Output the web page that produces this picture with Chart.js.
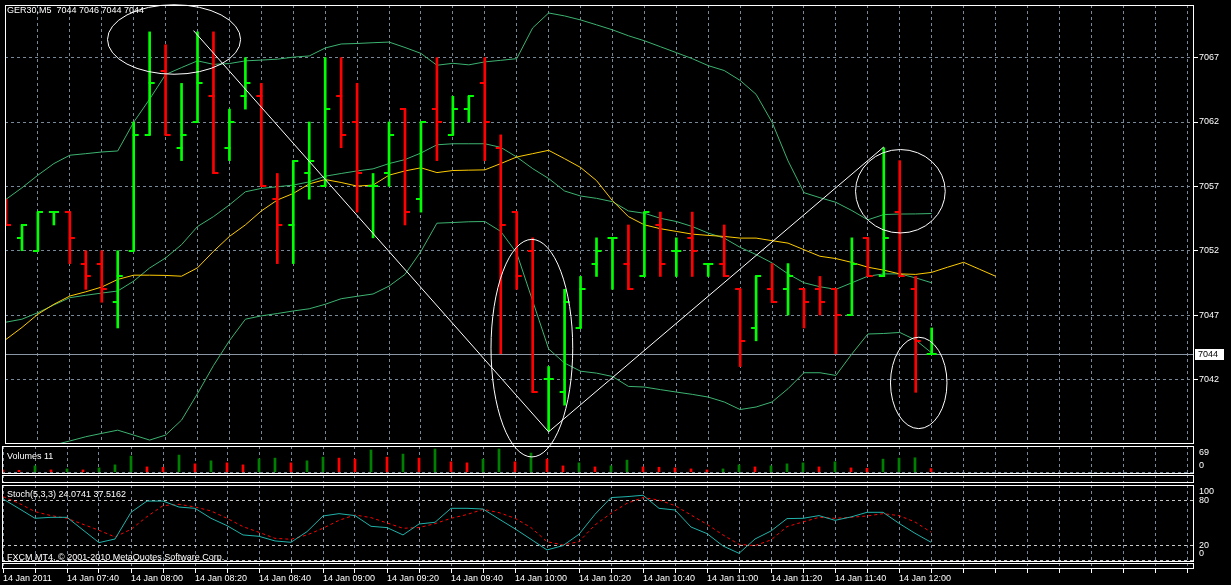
<!DOCTYPE html>
<html><head><meta charset="utf-8">
<script src="https://cdn.jsdelivr.net/npm/chart.js@4.4.1/dist/chart.umd.min.js"></script>
<style>
html,body{margin:0;padding:0;background:#000;overflow:hidden}
#wrap{position:relative;width:1231px;height:585px;background:#000}
canvas{position:absolute;left:0;top:0}
</style></head><body><div id="wrap">
<canvas id="cVol" width="1231" height="585"></canvas>
<canvas id="cEmpty" width="1231" height="585"></canvas>
<canvas id="cSto" width="1231" height="585"></canvas>
<canvas id="cAxis" width="1231" height="585"></canvas>
<canvas id="cMain" width="1231" height="585"></canvas>
</div>
<script>
// ---------------- DATA ----------------
const symbolName = 'GER30,M5';
const opens  = [7055,7053,7052,7055,7055,7051,7051,7048,7052,7061,7066,7060,7062,7064,7060,7064,7064,7056,7054,7058,7057,7064,7062,7057,7058,7063,7056,7063,7061,7063,7065,7060,7055,7052,7042,7041,7046,7051,7053,7051,7050,7054,7052,7053,7051,7051,7049,7046,7049,7049,7049,7049,7049,7047,7053,7050,7055,7049,7044];
const highs  = [7056,7054,7055,7055,7055,7052,7052,7052,7062,7069,7068,7065,7069,7069,7063,7067,7065,7058,7059,7062,7067,7067,7065,7058,7062,7063,7062,7067,7064,7064,7067,7061,7055,7053,7043,7049,7050,7053,7053,7054,7055,7055,7053,7055,7051,7054,7049,7050,7051,7051,7049,7050,7049,7053,7053,7060,7059,7050,7046];
const lows   = [7054,7052,7052,7054,7051,7049,7048,7046,7052,7061,7061,7059,7062,7058,7059,7063,7057,7051,7051,7056,7057,7060,7055,7053,7057,7054,7055,7059,7061,7062,7059,7044,7049,7041,7038,7040,7046,7050,7049,7049,7050,7050,7050,7050,7050,7050,7043,7045,7048,7047,7046,7047,7044,7047,7050,7050,7050,7041,7044];
const closes = [7054,7054,7055,7055,7053,7050,7049,7050,7061,7065,7061,7061,7065,7058,7062,7065,7057,7054,7059,7059,7063,7061,7058,7057,7061,7055,7062,7062,7063,7064,7062,7054,7050,7041,7042,7048,7049,7052,7053,7049,7055,7051,7052,7052,7051,7050,7045,7050,7048,7050,7048,7048,7047,7051,7050,7053,7050,7045,7044];
const volumes = [7,6,19,7,10,7,13,22,48,16,15,51,25,34,28,22,40,42,28,34,45,42,39,66,45,54,42,69,31,28,39,69,31,57,39,19,28,16,19,36,16,15,13,10,7,10,22,16,19,25,28,16,31,13,12,39,42,43,11];
const bbUpper = [7055.99,7056.89,7057.87,7058.77,7059.42,7059.54,7059.67,7059.75,7061.98,7063.78,7065.69,7066.23,7066.75,7066.48,7066.54,7066.75,7066.81,7066.88,7067.04,7067.13,7067.75,7068.06,7068.10,7068.16,7068.21,7067.79,7067.33,7066.41,7066.56,7066.44,7066.67,7066.79,7066.92,7069.31,7070.47,7070.24,7069.93,7069.55,7069.16,7068.70,7068.31,7067.85,7067.39,7066.92,7066.38,7066.00,7065.23,7064.15,7061.98,7058.98,7056.51,7056.12,7055.76,7055.12,7054.40,7054.81,7054.85,7054.86,7054.89];
const bbMiddle = [7046.45,7046.68,7047.19,7047.79,7048.35,7048.54,7048.71,7048.87,7049.64,7050.66,7051.44,7052.47,7053.88,7054.65,7055.56,7056.58,7056.84,7056.97,7057.10,7057.35,7057.79,7058.00,7058.20,7058.36,7058.77,7059.08,7059.59,7060.23,7060.31,7060.31,7060.31,7060.03,7059.28,7058.38,7057.61,7056.64,7056.25,7056.07,7055.81,7055.09,7054.91,7054.52,7054.27,7053.88,7053.37,7052.98,7052.26,7051.70,7051.05,7050.20,7049.51,7049.20,7049.00,7049.51,7050.02,7050.20,7050.20,7049.89,7049.51];
const bbLower = [7035.98,7036.29,7036.60,7036.91,7037.22,7037.55,7037.81,7038.06,7037.68,7037.29,7037.68,7038.84,7040.90,7043.08,7045.01,7046.68,7046.94,7047.12,7047.32,7047.49,7047.84,7048.27,7048.46,7048.64,7049.25,7050.16,7051.95,7054.14,7054.19,7054.25,7054.27,7053.50,7051.82,7048.10,7044.37,7043.27,7042.64,7042.49,7042.23,7041.46,7041.41,7041.21,7041.02,7040.84,7040.63,7040.25,7039.66,7039.86,7040.25,7041.28,7042.52,7042.52,7042.31,7043.98,7045.53,7045.57,7045.65,7045.06,7044.06];
const maShifted = [7045.11,7046.04,7047.07,7047.84,7048.48,7048.81,7049.18,7049.77,7050.10,7050.10,7050.08,7050.02,7050.67,7051.95,7053.11,7054.01,7055.09,7055.94,7056.45,7057.19,7057.53,7057.30,7057.02,7057.10,7057.87,7058.20,7058.44,7058.07,7058.23,7058.26,7058.28,7058.77,7059.28,7059.54,7059.80,7059.15,7058.47,7057.45,7055.89,7054.65,7054.01,7053.71,7053.50,7053.29,7053.19,7053.11,7052.98,7052.98,7052.78,7052.59,7052.08,7051.57,7051.39,7051.09,7050.72,7050.49,7050.20,7050.16,7050.32,7050.72,7051.10,7050.56,7050.02];
const stochMain = [81.8,69,56,57.3,57.3,40.4,23.6,28.4,64,79,79,71,69.3,56,46.2,33.8,32,25.8,24,38.2,59.1,62.2,59.6,45.3,43.6,33.8,48.4,50.7,69.3,69.3,68.4,55,42,28,13.8,19.6,34.7,61.3,83.6,84.9,86.7,69.3,67.1,44.4,35.6,19.1,9.3,28.4,39.1,55.6,56,59.6,53.3,57.8,64,64,49.3,36,24.0741];
const stochSignal = [84.9,76,64.9,59.6,56,48,40,31.1,41.3,58.2,72.9,74.7,71.1,65.8,56,44.9,37.3,29.3,28,33.8,42.7,53.3,60.4,56.9,49.8,42.7,43.6,48.9,56,61,68,63.6,56,43.6,24.9,20.4,24.9,47.1,62.7,76,83.6,80.4,72.9,60.4,48,33.8,21.3,19.6,27.1,44.9,51.1,57.3,56,57.3,59.1,62.2,59.6,51.1,37.5162];
const timeLabels = ['14 Jan 2011','14 Jan 07:40','14 Jan 08:00','14 Jan 08:20','14 Jan 08:40','14 Jan 09:00','14 Jan 09:20','14 Jan 09:40','14 Jan 10:00','14 Jan 10:20','14 Jan 10:40','14 Jan 11:00','14 Jan 11:20','14 Jan 11:40','14 Jan 12:00'];
const priceTicks = [7042,7047,7052,7057,7062,7067];
const volumeTicks = [69,0];
const stochTicks = [100,80,20,0];
const stochLevels = [0,20,80];
const bidPrice = 7044;
const trendPoints = [[11.75,7069.1],[34,7037.93],[55,7060.06]];          // [bar index, price]
const ellipses = [[10.53,7068.41,4.17,2.70],[32.95,7044.43,2.56,8.45],[56.04,7056.62,2.81,3.24],[57.19,7041.73,1.77,3.55]]; // [cx, cy, rx(bars), ry(price)]
const copyright = 'FXCM MT4, \u00A9 2001-2010 MetaQuotes Software Corp.';

// ---------------- STYLE / LAYOUT ----------------
const UP='#00ff00', DOWN='#ff0000', BAND='#3cb371', MA='#ffcc00', GRID='#778899';
const VOL_UP='#008000', VOL_DN='#ff0000', K_COL='#20b2aa', D_COL='#ff0000';
const FONT_FAMILY="'Liberation Sans', Arial, sans-serif";
const FONT='9px '+FONT_FAMILY;
Chart.defaults.font.family = FONT_FAMILY;
Chart.defaults.font.size = 9;
Chart.defaults.color = '#ffffff';
const PLOT_L=2, PLOT_R=1194, AXIS_W=1231-PLOT_R, BAR0=3, BAR_W=16;
const xMin=(PLOT_L-BAR0)/BAR_W, xMax=(PLOT_R-BAR0)/BAR_W;
const PX_PER_PT=12.96, REF_P=7067, REF_Y=55;
const MAIN_T=2, MAIN_B=444;
const pMax=REF_P+(REF_Y-MAIN_T)/PX_PER_PT, pMin=REF_P-(MAIN_B-REF_Y)/PX_PER_PT;

function evenTicks(s){ const t=[]; for(let v=0; v<=xMax; v+=2) t.push({value:v}); s.ticks=t; }
function xAxis(extra){
  return Object.assign({type:'linear',position:'bottom',min:xMin,max:xMax,offset:false,
    afterBuildTicks:evenTicks,
    afterFit:s=>{s.height=0;s.paddingLeft=0;s.paddingRight=0;},
    ticks:{display:false},
    grid:{color:GRID,drawTicks:false,offset:false,lineWidth:1},
    border:{display:false,dash:[3,3]}}, extra||{});
}
function yAxis(min,max,tickVals,extra){
  return Object.assign({type:'linear',position:'right',min:min,max:max,
    afterBuildTicks:s=>{s.ticks=tickVals.map(v=>({value:v}));},
    afterFit:s=>{s.width=AXIS_W;s.paddingTop=0;s.paddingBottom=0;},
    ticks:{display:false},
    grid:{color:GRID,drawTicks:false,lineWidth:1,display:tickVals.length>0},
    border:{display:false,dash:[3,3]}}, extra||{});
}
const frame={id:'frame',afterDraw(c){const a=c.chartArea,ctx=c.ctx;ctx.save();ctx.strokeStyle='#ffffff';ctx.lineWidth=1;
  ctx.strokeRect(a.left+0.5,a.top+0.5,a.right-a.left-1,a.bottom-a.top-1);ctx.restore();}};
function caption(text,x,y){return {id:'cap'+Math.random().toString(36).slice(2),afterDatasetsDraw(c){const ctx=c.ctx;ctx.save();
  ctx.fillStyle='#ffffff';ctx.font=FONT;ctx.textBaseline='middle';ctx.textAlign='left';ctx.fillText(typeof text==='function'?text():text,x,y);ctx.restore();}};}
function sideLabels(vals){return {id:'side',afterDraw(c){const a=c.chartArea,s=c.scales.y,ctx=c.ctx;ctx.save();
  ctx.fillStyle='#ffffff';ctx.font=FONT;ctx.textBaseline='middle';ctx.textAlign='left';
  vals.forEach(v=>{let y=s.getPixelForValue(v);y=Math.min(Math.max(y,a.top+7),a.bottom-8);ctx.fillText(String(v),a.right+5,y);});ctx.restore();}};}
const base={responsive:false,animation:false,events:[],devicePixelRatio:1,
  plugins:{legend:{display:false},tooltip:{enabled:false},title:{display:false}}};
function opts(padding,scales){return Object.assign({},base,{layout:{padding:padding},scales:scales});}

// tick images for OHLC open/close
function tickImg(color,open){const cv=document.createElement('canvas');cv.width=12;cv.height=2;const g=cv.getContext('2d');g.fillStyle=color;
  g.fillRect(open?1:5,0,6,2);return cv;}
const imgs={oU:tickImg(UP,true),oD:tickImg(DOWN,true),cU:tickImg(UP,false),cD:tickImg(DOWN,false)};
const isUp=closes.map((c,i)=>c>=opens[i]);
const pts=arr=>arr.map((v,i)=>({x:i,y:v}));

// ---------------- MAIN CHART ----------------
const mainDecor={id:'mainDecor',
  beforeDatasetsDraw(c){const a=c.chartArea,y=c.scales.y.getPixelForValue(bidPrice),ctx=c.ctx;ctx.save();ctx.strokeStyle='#8a96a3';ctx.lineWidth=1;
    ctx.beginPath();ctx.moveTo(a.left,Math.round(y)+0.5);ctx.lineTo(a.right,Math.round(y)+0.5);ctx.stroke();ctx.restore();},
  afterDatasetsDraw(c){const x=c.scales.x,y=c.scales.y,ctx=c.ctx;ctx.save();ctx.strokeStyle='#ffffff';ctx.lineWidth=1;
    ellipses.forEach(([ci,cp,ri,rp])=>{const X=x.getPixelForValue(ci),Y=y.getPixelForValue(cp);
      const RX=Math.abs(x.getPixelForValue(ci+ri)-X),RY=Math.abs(y.getPixelForValue(cp+rp)-Y);
      ctx.beginPath();ctx.ellipse(X,Y,RX,RY,0,0,Math.PI*2);ctx.stroke();});
    ctx.restore();},
  afterDraw(c){const a=c.chartArea,y=Math.round(c.scales.y.getPixelForValue(bidPrice)),ctx=c.ctx;ctx.save();
    ctx.fillStyle='#ffffff';ctx.fillRect(a.right+1,y-5,29,11);ctx.fillStyle='#000000';ctx.font=FONT;ctx.textBaseline='middle';ctx.textAlign='left';
    ctx.fillText(String(bidPrice),a.right+4,y+0.5);
    ctx.fillStyle='#ffffff';ctx.fillText(symbolName+'  '+[opens.at(-1),highs.at(-1),lows.at(-1),closes.at(-1)].join(' '),7,11);ctx.restore();}};
new Chart(document.getElementById('cMain'),{type:'line',
  data:{datasets:[
    {type:'line',data:pts(bbUpper),borderColor:BAND,borderWidth:1,pointRadius:0,order:6},
    {type:'line',data:pts(bbMiddle),borderColor:BAND,borderWidth:1,pointRadius:0,order:6},
    {type:'line',data:pts(bbLower),borderColor:BAND,borderWidth:1,pointRadius:0,order:6},
    {type:'line',data:pts(maShifted),borderColor:MA,borderWidth:1,pointRadius:0,order:5},
    {type:'bar',data:highs.map((h,i)=>({x:i,y:[lows[i],h]})),backgroundColor:isUp.map(u=>u?UP:DOWN),barThickness:2,borderWidth:0,grouped:false,order:2},
    {type:'line',showLine:false,data:pts(opens),pointStyle:isUp.map(u=>u?imgs.oU:imgs.oD),pointRadius:3,order:1},
    {type:'line',showLine:false,data:pts(closes),pointStyle:isUp.map(u=>u?imgs.cU:imgs.cD),pointRadius:3,order:1},
    {type:'line',data:trendPoints.map(([i,p])=>({x:i,y:p})),borderColor:'#ffffff',borderWidth:1,pointRadius:0,order:0}
  ]},
  options:opts({left:PLOT_L,top:MAIN_T,right:0,bottom:585-MAIN_B},{
    x:xAxis(),
    y:yAxis(pMin,pMax,priceTicks,{ticks:{display:true,color:'#ffffff',padding:1,font:{size:9},callback:v=>String(v)},
      grid:{color:GRID,drawTicks:true,tickLength:4,tickColor:'#ffffff',tickBorderDash:[],lineWidth:1}})
  }),
  plugins:[mainDecor,frame]});

// ---------------- VOLUME ----------------
const VOL_T=446, VOL_B=474, V0=472.3, V69=449;
const vpx=(V0-V69)/69, vMin=-(VOL_B-V0)/vpx, vMax=69+(V69-VOL_T)/vpx;
new Chart(document.getElementById('cVol'),{type:'bar',
  data:{datasets:[{data:pts(volumes),backgroundColor:volumes.map((v,i)=>i>0&&v>volumes[i-1]?VOL_UP:VOL_DN),barThickness:2,borderWidth:0}]},
  options:opts({left:PLOT_L,top:VOL_T,right:0,bottom:585-VOL_B},{x:xAxis(),y:yAxis(vMin,vMax,[0])}),
  plugins:[caption(()=> 'Volumes '+volumes.at(-1),7,457),sideLabels(volumeTicks),frame]});

// ---------------- EMPTY WINDOW ----------------
new Chart(document.getElementById('cEmpty'),{type:'line',data:{datasets:[]},
  options:opts({left:PLOT_L,top:475,right:0,bottom:585-483},{x:xAxis(),y:yAxis(0,1,[])}),plugins:[frame]});

// ---------------- STOCHASTIC ----------------
const STO_T=485, STO_B=562, S80=500.3, S20=545.3;
const spx=(S20-S80)/60, sMax=80+(S80-STO_T)/spx, sMin=20-(STO_B-S20)/spx;
new Chart(document.getElementById('cSto'),{type:'line',
  data:{datasets:[
    {data:pts(stochSignal),borderColor:D_COL,borderWidth:1,borderDash:[3,3],pointRadius:0,order:2},
    {data:pts(stochMain),borderColor:K_COL,borderWidth:1,pointRadius:0,order:1}]},
  options:opts({left:PLOT_L,top:STO_T,right:0,bottom:585-STO_B},{x:xAxis(),
    y:yAxis(sMin,sMax,stochLevels,{grid:{color:'#c8c8c8',drawTicks:false,lineWidth:1}})}),
  plugins:[caption(()=> 'Stoch(5,3,3) '+stochMain.at(-1).toFixed(4)+' '+stochSignal.at(-1).toFixed(4),7,495),
           caption(copyright,7,558),sideLabels(stochTicks),frame]});

// ---------------- TIME AXIS STRIP ----------------
new Chart(document.getElementById('cAxis'),{type:'line',data:{datasets:[]},
  options:opts({left:PLOT_L,top:563,right:0,bottom:0},{
    x:xAxis({afterFit:s=>{s.height=16;s.paddingLeft=0;s.paddingRight=0;},
      ticks:{display:true,color:'#ffffff',padding:0,autoSkip:false,maxRotation:0,minRotation:0,align:'start',font:{size:9},
        callback:v=>(v%4===0&&v/4<timeLabels.length)?timeLabels[v/4]:''},
      grid:{color:GRID,drawTicks:true,tickLength:4,tickColor:'#ffffff',tickBorderDash:[],offset:false,lineWidth:1}}),
    y:yAxis(0,1,[])}),
  plugins:[frame]});
</script></body></html>
